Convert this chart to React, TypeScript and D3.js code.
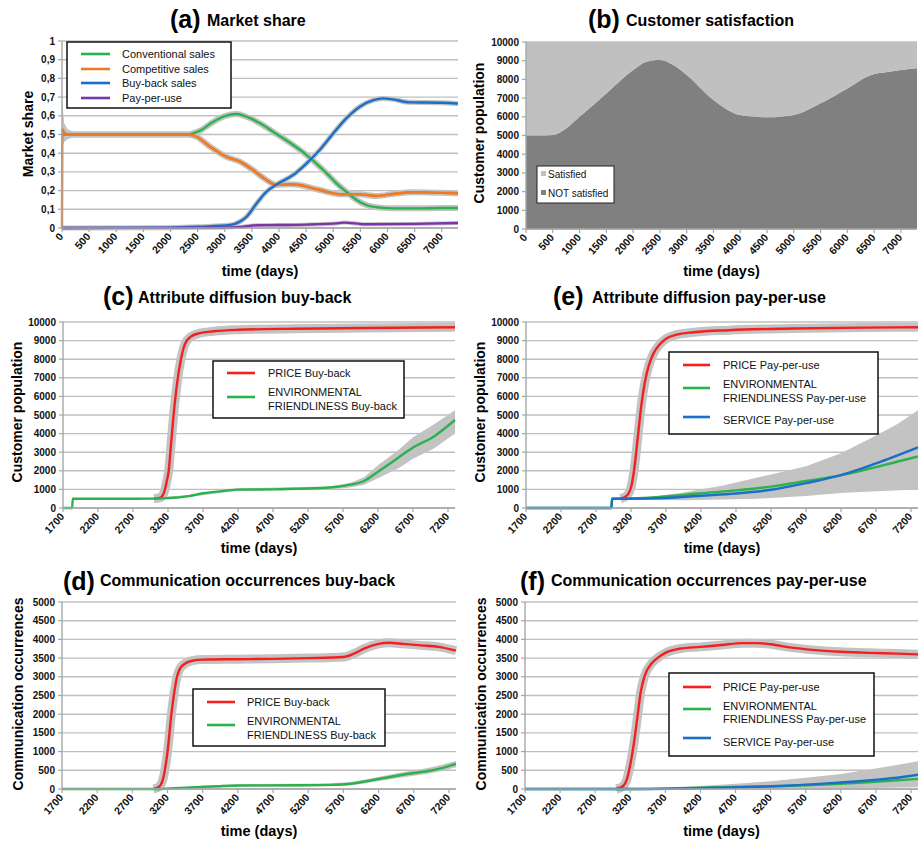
import React from "react";
import * as d3 from "d3";

type Pt = [number, number];

// ---------- shared ticks ----------
const shareTicks = [0, 0.1, 0.2, 0.3, 0.4, 0.5, 0.6, 0.7, 0.8, 0.9, 1];
const popTicks = [0, 1000, 2000, 3000, 4000, 5000, 6000, 7000, 8000, 9000, 10000];
const commTicks = [0, 500, 1000, 1500, 2000, 2500, 3000, 3500, 4000, 4500, 5000];
const dayTicksAll = [0, 500, 1000, 1500, 2000, 2500, 3000, 3500, 4000, 4500, 5000, 5500, 6000, 6500, 7000];
const dayTicksLate = [1700, 2200, 2700, 3200, 3700, 4200, 4700, 5200, 5700, 6200, 6700, 7200];

// ---------- (a) market share ----------
const conventionalA: Pt[] = [[0, 0.5], [2300, 0.5], [2540, 0.52], [2790, 0.568], [3000, 0.598], [3220, 0.61], [3400, 0.595], [3650, 0.56], [3890, 0.515], [4260, 0.444], [4510, 0.39], [4880, 0.292], [5060, 0.239], [5240, 0.194], [5430, 0.15], [5610, 0.123], [5860, 0.109], [6100, 0.105], [6500, 0.105], [7000, 0.107], [7300, 0.107]];
const competitiveA: Pt[] = [[0, 0], [8, 0.53], [40, 0.51], [100, 0.5], [2300, 0.5], [2480, 0.488], [2730, 0.435], [3030, 0.381], [3280, 0.355], [3520, 0.31], [3770, 0.257], [3950, 0.23], [4200, 0.234], [4380, 0.23], [4630, 0.212], [4880, 0.194], [5120, 0.18], [5490, 0.18], [5800, 0.171], [6100, 0.182], [6470, 0.191], [7000, 0.188], [7300, 0.186]];
const buybackA: Pt[] = [[0, 0], [2000, 0.002], [2540, 0.007], [3100, 0.016], [3280, 0.034], [3400, 0.06], [3590, 0.132], [3770, 0.194], [3950, 0.232], [4260, 0.283], [4510, 0.346], [4750, 0.417], [5000, 0.506], [5240, 0.586], [5490, 0.649], [5740, 0.684], [5920, 0.693], [6100, 0.688], [6410, 0.672], [7000, 0.67], [7300, 0.665]];
const payPerUseA: Pt[] = [[0, 0], [3000, 0.002], [3300, 0.006], [3600, 0.015], [4000, 0.016], [4500, 0.018], [5100, 0.026], [5200, 0.029], [5600, 0.02], [6500, 0.022], [7300, 0.027]];
const noiseHighA: Pt[] = [[0, 0.69], [40, 0.56], [100, 0.53], [200, 0.515], [400, 0.505], [700, 0.5]];
const noiseLowA: Pt[] = [[0, 0.44], [40, 0.46], [100, 0.475], [200, 0.485], [400, 0.495], [700, 0.5]];

// ---------- (b) customer satisfaction ----------
const daysB = [0, 250, 500, 750, 1000, 1500, 2000, 2250, 2500, 2750, 3000, 3500, 4000, 4500, 5000, 5500, 6000, 6500, 6750, 7000, 7300];
const notSatisfiedB = [5000, 5000, 5030, 5380, 6000, 7250, 8500, 8950, 9040, 8770, 8240, 6900, 6100, 5975, 6100, 6720, 7520, 8290, 8400, 8500, 8590];
const satisfiedB = [5000, 5000, 4970, 4620, 4000, 2750, 1500, 1050, 960, 1230, 1760, 3100, 3900, 4025, 3900, 3280, 2480, 1710, 1600, 1500, 1410];

// ---------- (c) attribute diffusion buy-back ----------
const priceC: Pt[] = [[3000, 500], [3080, 540], [3140, 800], [3180, 1400], [3210, 2000], [3245, 3500], [3280, 5000], [3330, 6700], [3385, 8000], [3440, 8800], [3520, 9200], [3650, 9400], [3850, 9500], [4200, 9580], [5000, 9640], [6000, 9680], [7300, 9720]];
const envC: Pt[] = [[1700, 0], [1830, 0], [1840, 500], [2500, 500], [3000, 505], [3200, 530], [3500, 640], [3700, 790], [4000, 920], [4200, 990], [4700, 1000], [5200, 1050], [5500, 1100], [5750, 1220], [6000, 1450], [6200, 1950], [6450, 2600], [6700, 3250], [7000, 3850], [7300, 4730]];
const envHighC: Pt[] = [[2900, 540], [3500, 700], [4200, 1060], [5500, 1150], [5800, 1350], [6000, 1650], [6200, 2300], [6500, 3150], [6700, 3800], [7000, 4500], [7300, 5250]];
const envLowC: Pt[] = [[2900, 470], [3500, 590], [4200, 930], [5500, 1000], [5800, 1100], [6000, 1250], [6200, 1600], [6500, 2150], [6700, 2650], [7000, 3200], [7300, 4000]];

// ---------- (e) attribute diffusion pay-per-use ----------
const priceE: Pt[] = [[3050, 500], [3150, 700], [3200, 1100], [3250, 2200], [3300, 3900], [3350, 5600], [3400, 6800], [3450, 7600], [3520, 8300], [3600, 8750], [3700, 9100], [3850, 9320], [4100, 9450], [4600, 9560], [5500, 9650], [6500, 9700], [7300, 9720]];
const envE: Pt[] = [[1700, 0], [2920, 0], [2930, 500], [3200, 510], [3700, 620], [4200, 790], [4700, 950], [5200, 1150], [5700, 1450], [6200, 1770], [6700, 2200], [7300, 2770]];
const serviceE: Pt[] = [[1700, 0], [2920, 0], [2930, 500], [3200, 500], [3700, 540], [4200, 660], [4700, 780], [5200, 980], [5700, 1340], [6200, 1770], [6700, 2400], [7300, 3260]];
const runsHighE: Pt[] = [[2950, 500], [3500, 600], [3900, 800], [4500, 1200], [5200, 1800], [5700, 2250], [6200, 2950], [6700, 3900], [7000, 4500], [7300, 5250]];
const runsLowE: Pt[] = [[2950, 450], [4000, 420], [5000, 500], [5700, 650], [6200, 800], [6700, 900], [7300, 1000]];

// ---------- (d) communication occurrences buy-back ----------
const priceD: Pt[] = [[3000, 0], [3080, 60], [3140, 300], [3200, 1000], [3255, 2000], [3335, 3000], [3400, 3280], [3550, 3430], [3700, 3460], [4200, 3470], [4700, 3480], [5200, 3500], [5700, 3530], [5850, 3620], [6000, 3760], [6200, 3880], [6350, 3910], [6550, 3880], [6800, 3840], [7050, 3800], [7300, 3700]];
const envD: Pt[] = [[1700, 0], [3000, 0], [3300, 20], [3600, 50], [3900, 75], [4200, 95], [5000, 100], [5500, 110], [5800, 140], [6000, 200], [6300, 300], [6600, 400], [6900, 480], [7100, 560], [7300, 670]];
const envHighD: Pt[] = [[3200, 30], [3700, 90], [4200, 130], [5000, 140], [5500, 150], [5800, 190], [6000, 250], [6300, 360], [6600, 470], [6900, 560], [7100, 650], [7300, 750]];
const envLowD: Pt[] = [[3200, 0], [3700, 20], [4200, 60], [5000, 65], [5500, 75], [5800, 100], [6000, 150], [6300, 240], [6600, 330], [6900, 410], [7100, 480], [7300, 580]];

// ---------- (f) communication occurrences pay-per-use ----------
const priceF: Pt[] = [[3000, 0], [3100, 80], [3150, 250], [3200, 650], [3250, 1200], [3300, 1900], [3350, 2600], [3400, 3000], [3500, 3350], [3600, 3520], [3700, 3640], [3900, 3750], [4200, 3800], [4500, 3850], [4800, 3900], [5000, 3900], [5200, 3870], [5500, 3780], [5800, 3720], [6200, 3670], [6600, 3640], [7000, 3620], [7300, 3600]];
const envF: Pt[] = [[1700, 0], [3300, 0], [3700, 15], [4200, 35], [4700, 55], [5200, 70], [5700, 100], [6200, 140], [6700, 195], [7300, 270]];
const serviceF: Pt[] = [[1700, 0], [3500, 0], [4000, 15], [4500, 35], [5000, 60], [5500, 95], [6000, 150], [6500, 215], [7000, 300], [7300, 380]];
const runsHighF: Pt[] = [[3200, 0], [3700, 30], [4200, 80], [4700, 140], [5200, 210], [5700, 300], [6200, 400], [6700, 550], [7300, 740]];
const runsLowF: Pt[] = [[3200, 0], [5000, 0], [6000, 10], [7300, 50]];

const GREEN = "#2bb24c";
const ORANGE = "#ef7a22";
const BLUE = "#1b6fc6";
const PURPLE = "#7a36a8";
const RED = "#f42020";
const RUNS = "#c3c3c3";
const FONT = "'Liberation Sans', Arial, sans-serif";

type Series = { data: Pt[]; color: string; halo?: number };
type Band = { upper: Pt[]; lower: Pt[] };
type LegendItem = { color: string; lineY: number; texts: [string, number][] };
type Legend = { x: number; y: number; w: number; h: number; lx1: number; lx2: number; tx: number; items: LegendItem[] };

type PanelProps = {
  left: number; right: number; top: number; bottom: number;
  xDomain: [number, number]; xTicks: number[];
  yDomain: [number, number]; yTicks: number[]; yFmt?: (v: number) => string;
  series?: Series[]; bands?: Band[];
  stack?: boolean;
  tag: string; tagX: number; tagY: number; title: string; titleX: number; titleY: number;
  yLabel: string; yLabelX: number; yLabelY: number; xLabelY: number;
  legend?: Legend;
};

function Panel(p: PanelProps) {
  const x = d3.scaleLinear().domain(p.xDomain).range([p.left, p.right]);
  const y = d3.scaleLinear().domain(p.yDomain).range([p.bottom, p.top]);
  const line = d3.line<Pt>().x((d) => x(d[0])).y((d) => y(d[1])).curve(d3.curveMonotoneX);
  const poly = d3.line<Pt>().x((d) => x(d[0])).y((d) => y(d[1]));
  const fmt = p.yFmt || ((v: number) => String(v));

  let stackPaths: React.ReactNode = null;
  if (p.stack) {
    const rows = daysB.map((d, i) => ({ day: d, notSat: notSatisfiedB[i], sat: satisfiedB[i] }));
    const layers = d3.stack<any>().keys(["notSat", "sat"])(rows);
    const area = d3.area<any>().x((d) => x(d.data.day)).y0((d) => y(d[0])).y1((d) => y(d[1])).curve(d3.curveMonotoneX);
    const fills = ["#808080", "#c0c0c0"];
    stackPaths = layers.map((l, i) => <path key={i} d={area(l) || ""} fill={fills[i]} />);
  }

  return (
    <g fontFamily={FONT}>
      {p.yTicks.map((t) => (
        <line key={"g" + t} x1={p.left} x2={p.right} y1={y(t)} y2={y(t)} stroke="#bfbfbf" strokeWidth={1.4} />
      ))}
      {stackPaths}
      {(p.bands || []).map((b, i) => (
        <path key={"b" + i} d={poly([...b.upper, ...b.lower.slice().reverse()]) + "Z"} fill={RUNS} />
      ))}
      {(p.series || []).map((s, i) =>
        s.halo ? (
          <path key={"h" + i} d={line(s.data) || ""} fill="none" stroke={RUNS} strokeWidth={s.halo} strokeLinejoin="round" strokeLinecap="butt" />
        ) : null
      )}
      {(p.series || []).map((s, i) => (
        <path key={"s" + i} d={line(s.data) || ""} fill="none" stroke={s.color} strokeWidth={2.4} strokeLinejoin="round" />
      ))}
      {/* axes */}
      <line x1={p.left} x2={p.left} y1={p.top} y2={p.bottom} stroke="#a6a6a6" strokeWidth={1.4} />
      <line x1={p.left} x2={p.right} y1={p.bottom} y2={p.bottom} stroke="#a6a6a6" strokeWidth={1.4} />
      {p.yTicks.map((t) => (
        <g key={"yt" + t}>
          <line x1={p.left - 4} x2={p.left} y1={y(t)} y2={y(t)} stroke="#a6a6a6" strokeWidth={1.2} />
          <text x={p.left - 7} y={y(t)} dy="0.35em" textAnchor="end" fontSize={10} fontWeight="bold" fill="#111">
            {fmt(t)}
          </text>
        </g>
      ))}
      {p.xTicks.map((t) => (
        <g key={"xt" + t}>
          <line x1={x(t)} x2={x(t)} y1={p.bottom} y2={p.bottom + 4} stroke="#a6a6a6" strokeWidth={1.2} />
          <text
            transform={`translate(${x(t) + 2},${p.bottom + 9}) rotate(-48)`}
            textAnchor="end"
            fontSize={10.5}
            fontWeight="bold"
            fill="#111"
          >
            {t}
          </text>
        </g>
      ))}
      {/* titles */}
      <text x={p.tagX} y={p.tagY} fontSize={25} fontWeight="bold" fill="#000">{p.tag}</text>
      <text x={p.titleX} y={p.titleY} fontSize={16} fontWeight="bold" fill="#000">{p.title}</text>
      <text
        transform={`translate(${p.yLabelX},${p.yLabelY}) rotate(-90)`}
        textAnchor="middle"
        fontSize={14}
        fontWeight="bold"
        fill="#000"
      >
        {p.yLabel}
      </text>
      <text x={(p.left + p.right) / 2} y={p.xLabelY} textAnchor="middle" fontSize={14.5} fontWeight="bold" fill="#000">
        time (days)
      </text>
      {p.legend && (
        <g>
          <rect x={p.legend.x} y={p.legend.y} width={p.legend.w} height={p.legend.h} fill="#fff" stroke="#111" strokeWidth={1.5} />
          {p.legend.items.map((it, i) => (
            <g key={"l" + i}>
              <line x1={p.legend!.lx1} x2={p.legend!.lx2} y1={it.lineY} y2={it.lineY} stroke={it.color} strokeWidth={2.6} />
              {it.texts.map(([txt, ty], j) => (
                <text key={j} x={p.legend!.tx} y={ty} dy="0.35em" fontSize={11} fill="#111">{txt}</text>
              ))}
            </g>
          ))}
        </g>
      )}
    </g>
  );
}

export default function App() {
  const shareFmt = (v: number) => (v === 0 || v === 1 ? String(v) : String(v).replace(".", ","));
  return (
    <div>
      <style>{`body{margin:0}`}</style>
      <svg width={918} height={844} style={{ display: "block", background: "#fff" }}>
        <Panel
          left={62} right={458} top={41} bottom={228}
          xDomain={[0, 7300]} xTicks={dayTicksAll}
          yDomain={[0, 1]} yTicks={shareTicks} yFmt={shareFmt}
          bands={[{ upper: noiseHighA, lower: noiseLowA }]}
          series={[
            { data: conventionalA, color: GREEN, halo: 6 },
            { data: competitiveA.slice(2), color: ORANGE, halo: 6 },
            { data: competitiveA, color: ORANGE },
            { data: buybackA, color: BLUE, halo: 5 },
            { data: payPerUseA, color: PURPLE, halo: 4 },
          ]}
          tag="(a)" tagX={170} tagY={28} title="Market share" titleX={207} titleY={26}
          yLabel="Market share" yLabelX={33} yLabelY={134} xLabelY={276}
          legend={{
            x: 67, y: 42, w: 164, h: 66, lx1: 81, lx2: 110, tx: 122,
            items: [
              { color: GREEN, lineY: 54, texts: [["Conventional sales", 54]] },
              { color: ORANGE, lineY: 69, texts: [["Competitive sales", 69]] },
              { color: BLUE, lineY: 83, texts: [["Buy-back sales", 83]] },
              { color: PURPLE, lineY: 98, texts: [["Pay-per-use", 98]] },
            ],
          }}
        />
        <Panel
          left={526} right={917} top={42} bottom={229}
          xDomain={[0, 7300]} xTicks={dayTicksAll}
          yDomain={[0, 10000]} yTicks={popTicks}
          stack
          tag="(b)" tagX={588} tagY={28} title="Customer satisfaction" titleX={626} titleY={26}
          yLabel="Customer population" yLabelX={484} yLabelY={133} xLabelY={276}
        />
        <g fontFamily={FONT}>
          <rect x={537} y={166} width={77} height={37} fill="#fff" stroke="#222" strokeWidth={1} />
          <rect x={541} y={171} width={5} height={5} fill="#c0c0c0" />
          <text x={548} y={174} dy="0.35em" fontSize={10} fill="#111">Satisfied</text>
          <rect x={541} y={190} width={5} height={5} fill="#808080" />
          <text x={548} y={193} dy="0.35em" fontSize={10} fill="#111">NOT satisfied</text>
        </g>
        <Panel
          left={63} right={455} top={322} bottom={508}
          xDomain={[1700, 7300]} xTicks={dayTicksLate}
          yDomain={[0, 10000]} yTicks={popTicks}
          bands={[{ upper: envHighC, lower: envLowC }]}
          series={[
            { data: priceC, color: RED, halo: 9 },
            { data: envC, color: GREEN },
          ]}
          tag="(c)" tagX={103} tagY={305} title="Attribute diffusion buy-back" titleX={138} titleY={303}
          yLabel="Customer population" yLabelX={22} yLabelY={412} xLabelY={553}
          legend={{
            x: 213, y: 361, w: 191, h: 57, lx1: 227, lx2: 255, tx: 268,
            items: [
              { color: RED, lineY: 373, texts: [["PRICE Buy-back", 373]] },
              { color: GREEN, lineY: 397, texts: [["ENVIRONMENTAL", 392], ["FRIENDLINESS Buy-back", 406]] },
            ],
          }}
        />
        <Panel
          left={526} right={918} top={322} bottom={508}
          xDomain={[1700, 7300]} xTicks={dayTicksLate}
          yDomain={[0, 10000]} yTicks={popTicks}
          bands={[{ upper: runsHighE, lower: runsLowE }]}
          series={[
            { data: priceE, color: RED, halo: 9 },
            { data: envE, color: GREEN },
            { data: serviceE, color: BLUE },
          ]}
          tag="(e)" tagX={553} tagY={305} title="Attribute diffusion pay-per-use" titleX={592} titleY={303}
          yLabel="Customer population" yLabelX={485} yLabelY={412} xLabelY={553}
          legend={{
            x: 669, y: 352, w: 209, h: 82, lx1: 683, lx2: 710, tx: 723,
            items: [
              { color: RED, lineY: 365, texts: [["PRICE Pay-per-use", 365]] },
              { color: GREEN, lineY: 388, texts: [["ENVIRONMENTAL", 384], ["FRIENDLINESS Pay-per-use", 398]] },
              { color: BLUE, lineY: 417, texts: [["SERVICE Pay-per-use", 420]] },
            ],
          }}
        />
        <Panel
          left={62} right={456} top={602} bottom={789}
          xDomain={[1700, 7300]} xTicks={dayTicksLate}
          yDomain={[0, 5000]} yTicks={commTicks}
          bands={[{ upper: envHighD, lower: envLowD }]}
          series={[
            { data: priceD, color: RED, halo: 9 },
            { data: envD, color: GREEN },
          ]}
          tag="(d)" tagX={63} tagY={590} title="Communication occurrences buy-back" titleX={100} titleY={586}
          yLabel="Communication occurrences" yLabelX={23} yLabelY={694} xLabelY={836}
          legend={{
            x: 193, y: 689, w: 192, h: 57, lx1: 207, lx2: 235, tx: 247,
            items: [
              { color: RED, lineY: 702, texts: [["PRICE Buy-back", 702]] },
              { color: GREEN, lineY: 725, texts: [["ENVIRONMENTAL", 721], ["FRIENDLINESS Buy-back", 735]] },
            ],
          }}
        />
        <Panel
          left={525} right={918} top={602} bottom={789}
          xDomain={[1700, 7300]} xTicks={dayTicksLate}
          yDomain={[0, 5000]} yTicks={commTicks}
          bands={[{ upper: runsHighF, lower: runsLowF }]}
          series={[
            { data: priceF, color: RED, halo: 9 },
            { data: envF, color: GREEN },
            { data: serviceF, color: BLUE },
          ]}
          tag="(f)" tagX={520} tagY={590} title="Communication occurrences pay-per-use" titleX={551} titleY={586}
          yLabel="Communication occurrences" yLabelX={486} yLabelY={694} xLabelY={836}
          legend={{
            x: 669, y: 673, w: 205, h: 83, lx1: 683, lx2: 711, tx: 723,
            items: [
              { color: RED, lineY: 687, texts: [["PRICE Pay-per-use", 687]] },
              { color: GREEN, lineY: 709, texts: [["ENVIRONMENTAL", 706], ["FRIENDLINESS Pay-per-use", 719]] },
              { color: BLUE, lineY: 738, texts: [["SERVICE Pay-per-use", 742]] },
            ],
          }}
        />
      </svg>
    </div>
  );
}
